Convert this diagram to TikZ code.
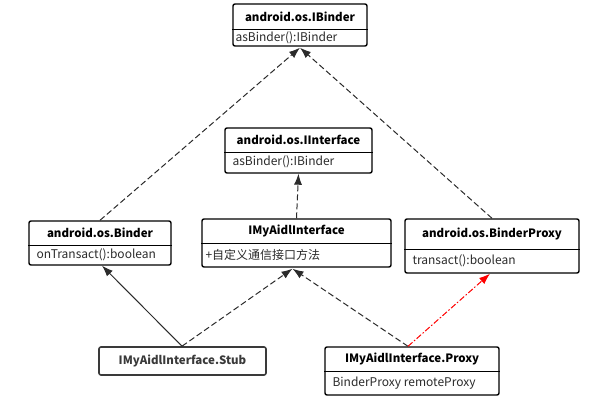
\documentclass[tikz,border=0pt]{standalone}
\usepackage{fontspec}
\setmainfont{Noto Sans CJK SC}
\usepackage{tikz}
\usepackage{xcolor}
\usetikzlibrary{arrows.meta}
\usetikzlibrary{calc}
\usetikzlibrary{positioning}

\definecolor{linegray}{HTML}{2B2B2B}
\definecolor{stubgray}{HTML}{3A3A3A}

\tikzset{
  classbox/.style={draw=black, line width=1.4pt, rounded corners=2pt, fill=white, inner sep=0pt},
  title/.style={font=\fontsize{11.5}{13}\selectfont\bfseries, inner sep=0pt},
  attr/.style={font=\fontsize{12}{14}\selectfont, inner sep=0pt, anchor=west, text=linegray},
  divider/.style={draw=black, line width=0.8pt},
  realize/.style={draw=linegray, line width=1pt, dash pattern=on 6pt off 3pt, -{Latex[length=11pt,width=8pt]}},
  inherit/.style={draw=linegray, line width=1pt, -{Latex[length=11pt,width=8pt]}},
  holds/.style={draw=red, line width=1pt, dash pattern=on 6pt off 2pt on 1.5pt off 2pt, -{Latex[length=11pt,width=8pt]}}
}

\begin{document}
\begin{tikzpicture}[x=1pt, y=-1pt]
\useasboundingbox (0,0) rectangle (598,404);

%IBinder
\node[classbox, minimum width=134pt, minimum height=42pt] (ibinder) at (300,25) {};
\draw[divider] (ibinder.west |- 0,29) -- (ibinder.east |- 0,29);
\node[title] (ibinderT) at (300,17) {android.os.IBinder};
\node[attr] (ibinderA) at ([xshift=3pt]ibinder.west |- 0,38) {asBinder():IBinder};

%IInterface
\node[classbox, minimum width=147pt, minimum height=45pt] (iinterface) at (298.5,150.5) {};
\draw[divider] (iinterface.west |- 0,152) -- (iinterface.east |- 0,152);
\node[title] (iinterfaceT) at (298.5,140) {android.os.IInterface};
\node[attr] (iinterfaceA) at ([xshift=8pt]iinterface.west |- 0,162) {asBinder():IBinder};

%IMyAidlInterface
\node[classbox, minimum width=189pt, minimum height=48pt] (aidl) at (296.5,243) {};
\draw[divider] (aidl.west |- 0,243) -- (aidl.east |- 0,243);
\node[title] (aidlT) at (296.5,231) {IMyAidlInterface};
\node[attr] (aidlA) at ([xshift=4pt]aidl.west |- 0,255) {+自定义通信接口方法};

%Binder
\node[classbox, minimum width=142pt, minimum height=44pt] (binder) at (100,243) {};
\draw[divider] (binder.west |- 0,245) -- (binder.east |- 0,245);
\node[title] (binderT) at (100,233) {android.os.Binder};
\node[attr] (binderA) at ([xshift=8pt]binder.west |- 0,255) {onTransact():boolean};

%BinderProxy
\node[classbox, minimum width=174pt, minimum height=54pt] (bproxy) at (492,246) {};
\draw[divider] (bproxy.west |- 0,249) -- (bproxy.east |- 0,249);
\node[title] (bproxyT) at (492,234) {android.os.BinderProxy};
\node[attr] (bproxyA) at ([xshift=8pt]bproxy.west |- 0,261) {transact():boolean};

%Stub
\node[classbox, draw=stubgray, line width=1.6pt, minimum width=167pt, minimum height=28pt] (stub) at (182.5,361) {};
\node[title, text=stubgray] (stubT) at (182.5,361) {IMyAidlInterface.Stub};

%Proxy
\node[classbox, minimum width=174pt, minimum height=48pt] (proxy) at (412,371) {};
\draw[divider] (proxy.west |- 0,371) -- (proxy.east |- 0,371);
\node[title] (proxyT) at (412,359) {IMyAidlInterface.Proxy};
\node[attr] (proxyA) at ([xshift=8pt]proxy.west |- 0,383) {BinderProxy remoteProxy};

%connectors
\draw[realize] (binder.north) -- ([yshift=-1pt]ibinder.south);
\draw[realize] (bproxy.north) -- ([yshift=-1pt]ibinder.south);
\draw[realize] (aidl.north) -- (iinterface.south);
\draw[inherit] ([xshift=-0.5pt]stub.north) -- ([xshift=2pt]binder.south);
\draw[realize] ([xshift=-0.5pt]stub.north) -- ([xshift=-4pt,yshift=-1pt]aidl.south);
\draw[realize] ([xshift=-4pt]proxy.north) -- ([xshift=-4pt,yshift=-1pt]aidl.south);
\draw[holds] ([xshift=-4pt]proxy.north) -- ([xshift=-2pt]bproxy.south);
\end{tikzpicture}
\end{document}
